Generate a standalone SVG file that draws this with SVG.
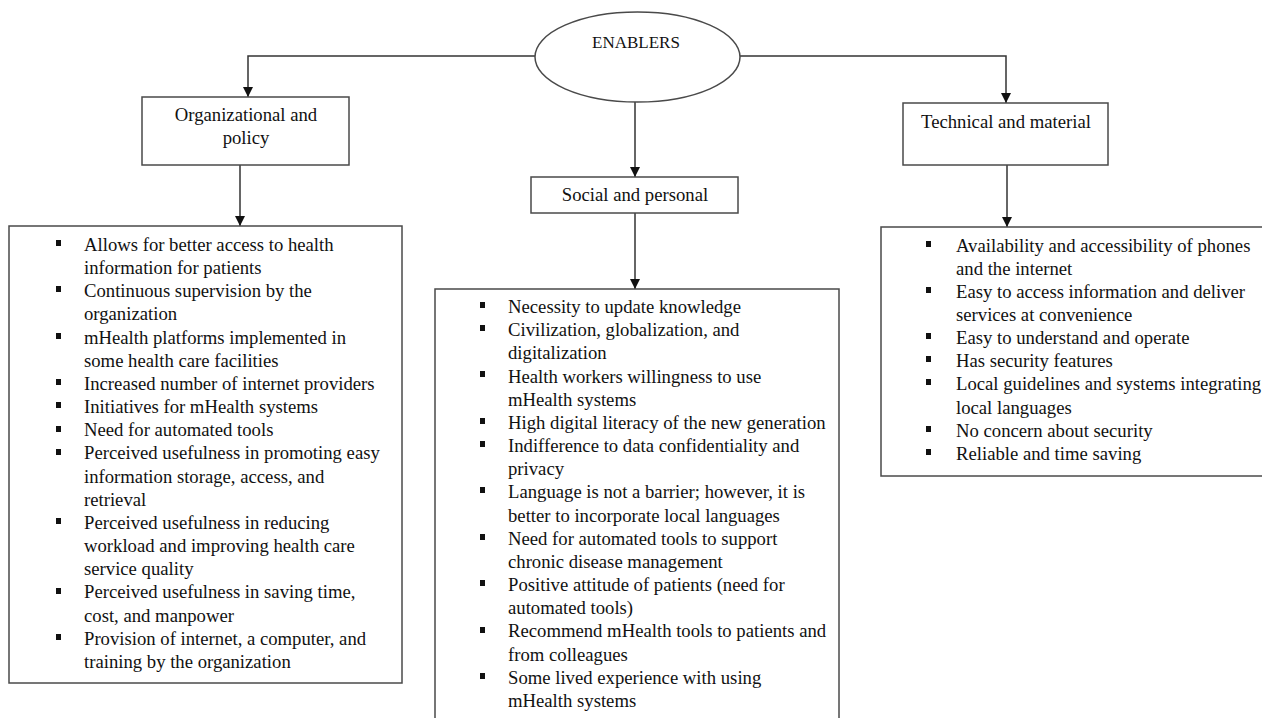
<svg xmlns="http://www.w3.org/2000/svg" width="1262" height="718" viewBox="0 0 1262 718">
  <style>
    .box { fill: #ffffff; stroke: #4a4a4a; stroke-width: 1.5; }
    .wire { fill: none; stroke: #333333; stroke-width: 1.5; }
    text { font-family: "Liberation Serif", "Times New Roman", serif; font-size: 18.7px; fill: #111111; }
    .c { text-anchor: middle; }
    .blt { fill: #111111; }
  </style>
  <defs>
    <marker id="arrow" viewBox="0 0 10 10" refX="10" refY="5" markerWidth="11" markerHeight="10" markerUnits="userSpaceOnUse" orient="auto">
      <path d="M0,0 L10,5 L0,10 Z" fill="#111111"/>
    </marker>
  </defs>

  <rect width="1262" height="718" fill="#ffffff"/>

  <!-- connectors -->
  <g id="connectors">
    <path class="wire" d="M535,56 H248 V97" marker-end="url(#arrow)"/>
    <path class="wire" d="M740,56 H1006 V103" marker-end="url(#arrow)"/>
    <path class="wire" d="M635,102 V177" marker-end="url(#arrow)"/>
    <path class="wire" d="M240,165 V226" marker-end="url(#arrow)"/>
    <path class="wire" d="M635,213 V289" marker-end="url(#arrow)"/>
    <path class="wire" d="M1007,165 V227" marker-end="url(#arrow)"/>
  </g>

  <!-- root -->
  <g id="enablers">
    <ellipse class="box" cx="637.5" cy="57" rx="102.5" ry="45"/>
    <text class="c" x="636" y="48" style="font-size:17px">ENABLERS</text>
  </g>

  <!-- category boxes -->
  <g id="organizational">
    <rect class="box" x="142" y="97" width="207" height="68"/>
    <text class="c" x="246" y="121">Organizational and</text>
    <text class="c" x="246" y="144">policy</text>
  </g>
  <g id="social">
    <rect class="box" x="531" y="177" width="207" height="36"/>
    <text class="c" x="635" y="201">Social and personal</text>
  </g>
  <g id="technical">
    <rect class="box" x="903" y="103" width="205" height="62"/>
    <text class="c" x="1006" y="128">Technical and material</text>
  </g>

  <!-- organizational list -->
  <g id="organizational-list">
    <rect class="box" x="9" y="226" width="393" height="457"/>
    <g class="blt">
      <rect x="56" y="240" width="5" height="6"/>
      <rect x="56" y="286" width="5" height="6"/>
      <rect x="56" y="333" width="5" height="6"/>
      <rect x="56" y="379" width="5" height="6"/>
      <rect x="56" y="402" width="5" height="6"/>
      <rect x="56" y="426" width="5" height="6"/>
      <rect x="56" y="449" width="5" height="6"/>
      <rect x="56" y="518" width="5" height="6"/>
      <rect x="56" y="588" width="5" height="6"/>
      <rect x="56" y="634" width="5" height="6"/>
    </g>
    <text x="84" y="251">Allows for better access to health</text>
    <text x="84" y="274">information for patients</text>
    <text x="84" y="297">Continuous supervision by the</text>
    <text x="84" y="320">organization</text>
    <text x="84" y="344">mHealth platforms implemented in</text>
    <text x="84" y="367">some health care facilities</text>
    <text x="84" y="390">Increased number of internet providers</text>
    <text x="84" y="413">Initiatives for mHealth systems</text>
    <text x="84" y="436">Need for automated tools</text>
    <text x="84" y="459">Perceived usefulness in promoting easy</text>
    <text x="84" y="483">information storage, access, and</text>
    <text x="84" y="506">retrieval</text>
    <text x="84" y="529">Perceived usefulness in reducing</text>
    <text x="84" y="552">workload and improving health care</text>
    <text x="84" y="575">service quality</text>
    <text x="84" y="598">Perceived usefulness in saving time,</text>
    <text x="84" y="622">cost, and manpower</text>
    <text x="84" y="645">Provision of internet, a computer, and</text>
    <text x="84" y="668">training by the organization</text>
  </g>

  <!-- social list -->
  <g id="social-list">
    <rect class="box" x="435" y="289" width="404" height="440"/>
    <g class="blt">
      <rect x="480" y="302" width="5" height="6"/>
      <rect x="480" y="325" width="5" height="6"/>
      <rect x="480" y="371" width="5" height="6"/>
      <rect x="480" y="418" width="5" height="6"/>
      <rect x="480" y="441" width="5" height="6"/>
      <rect x="480" y="487" width="5" height="6"/>
      <rect x="480" y="534" width="5" height="6"/>
      <rect x="480" y="580" width="5" height="6"/>
      <rect x="480" y="627" width="5" height="6"/>
      <rect x="480" y="673" width="5" height="6"/>
    </g>
    <text x="508" y="313">Necessity to update knowledge</text>
    <text x="508" y="336">Civilization, globalization, and</text>
    <text x="508" y="359">digitalization</text>
    <text x="508" y="383">Health workers willingness to use</text>
    <text x="508" y="406">mHealth systems</text>
    <text x="508" y="429">High digital literacy of the new generation</text>
    <text x="508" y="452">Indifference to data confidentiality and</text>
    <text x="508" y="475">privacy</text>
    <text x="508" y="498">Language is not a barrier; however, it is</text>
    <text x="508" y="522">better to incorporate local languages</text>
    <text x="508" y="545">Need for automated tools to support</text>
    <text x="508" y="568">chronic disease management</text>
    <text x="508" y="591">Positive attitude of patients (need for</text>
    <text x="508" y="614">automated tools)</text>
    <text x="508" y="637">Recommend mHealth tools to patients and</text>
    <text x="508" y="661">from colleagues</text>
    <text x="508" y="684">Some lived experience with using</text>
    <text x="508" y="707">mHealth systems</text>
  </g>

  <!-- technical list -->
  <g id="technical-list">
    <rect class="box" x="881" y="227" width="400" height="249"/>
    <g class="blt">
      <rect x="926" y="241" width="5" height="6"/>
      <rect x="926" y="287" width="5" height="6"/>
      <rect x="926" y="333" width="5" height="6"/>
      <rect x="926" y="356" width="5" height="6"/>
      <rect x="926" y="379" width="5" height="6"/>
      <rect x="926" y="426" width="5" height="6"/>
      <rect x="926" y="449" width="5" height="6"/>
    </g>
    <text x="956" y="252">Availability and accessibility of phones</text>
    <text x="956" y="275">and the internet</text>
    <text x="956" y="298">Easy to access information and deliver</text>
    <text x="956" y="321">services at convenience</text>
    <text x="956" y="344">Easy to understand and operate</text>
    <text x="956" y="367">Has security features</text>
    <text x="956" y="390">Local guidelines and systems integrating</text>
    <text x="956" y="414">local languages</text>
    <text x="956" y="437">No concern about security</text>
    <text x="956" y="460">Reliable and time saving</text>
  </g>
</svg>
